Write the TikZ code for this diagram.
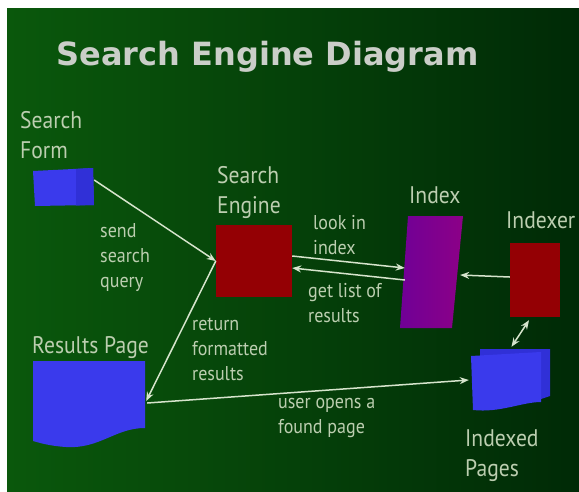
\documentclass[tikz,border=0pt]{standalone}
\usepackage{fontspec}
\setmainfont{PT Sans}
\newfontfamily\lblfont[FakeStretch=0.9]{PT Sans}
\newfontfamily\headfont{DejaVu Sans}
\usetikzlibrary{arrows.meta,calc}

\definecolor{bgleft}{RGB}{10,88,12}
\definecolor{bgright}{RGB}{0,42,6}
\definecolor{labelcol}{RGB}{188,206,176}
\definecolor{titlecol}{RGB}{202,206,200}
\definecolor{linecol}{RGB}{214,228,204}
\definecolor{pageblue}{RGB}{58,58,236}
\definecolor{pageblue2}{RGB}{48,48,215}
\definecolor{boxred}{RGB}{148,0,4}
\definecolor{idxleft}{RGB}{112,0,150}
\definecolor{idxright}{RGB}{140,0,135}

% multi-line labels are anchored at the baseline of their last line
\tikzset{
  biglabel/.style={text=labelcol, font=\lblfont\fontsize{24}{30}\selectfont,
    align=left, anchor=base west, inner sep=0pt},
  smalllabel/.style={text=labelcol, font=\lblfont\fontsize{20}{25}\selectfont,
    align=left, anchor=base west, inner sep=0pt},
  redbox/.style={fill=boxred, draw=none, inner sep=0pt},
  area/.style={draw=none, inner sep=0pt},
  flow/.style={draw=linecol, line width=1.5pt,
    -{Stealth[length=9pt,width=7pt]}},
  twoway/.style={draw=linecol, line width=1.5pt,
    {Stealth[length=9pt,width=7pt]}-{Stealth[length=9pt,width=7pt]}},
}

\begin{document}
\begin{tikzpicture}[x=1pt,y=-1pt]
  \useasboundingbox (0,0) rectangle (579,491);
  % backdrop
  \fill[white] (0,0) rectangle (579,491);
  \shade[left color=bgleft, right color=bgright] (7,8) rectangle (579,491);

  % heading
  \node[text=titlecol, font=\headfont\bfseries\fontsize{32}{38}\selectfont,
        anchor=base] (title) at (267.5,65) {Search Engine Diagram};

  % search form
  \node[area, minimum width=61pt, minimum height=38pt] (form) at (63.5,187) {};
  \fill[pageblue] (33,171) -- (93,168) -- (94,205) -- (35,206) -- cycle;
  \fill[pageblue2] (76,169) -- (93,168) -- (94,205) -- (76,205.5) -- cycle;
  \node[biglabel] (formlbl) at (20,158) {Search\\Form};

  % search engine
  \node[redbox, minimum width=76pt, minimum height=72pt] (se) at (254,261) {};
  \node[biglabel] (selbl) at (217,213) {Search\\Engine};

  % index
  \node[area, minimum width=63pt, minimum height=112pt] (index) at (431.5,272) {};
  \shade[left color=idxleft, right color=idxright]
    (408,216) -- (463,216) -- (452,328) -- (400,328) -- cycle;
  \node[biglabel] (indexlbl) at (409,203) {Index};

  % indexer
  \node[redbox, minimum width=50pt, minimum height=74pt] (idxr) at (535,280) {};
  \node[biglabel] (idxrlbl) at (506,228) {Indexer};

  % indexed pages (two stacked sheets)
  \node[area, minimum width=79pt, minimum height=62pt] (ip) at (510.5,380) {};
  \fill[pageblue2] (480,349) -- (550,349) -- (550,396) -- (541,399) -- (480,399) -- cycle;
  \fill[pageblue] (471,356) -- (541,352) -- (541,402)
    .. controls (522,402) and (500,413) .. (473,410) -- cycle;
  \node[biglabel] (iplbl) at (465,476) {Indexed\\Pages};

  % results page
  \node[area, minimum width=112pt, minimum height=86pt] (res) at (89,404) {};
  \fill[pageblue] (33,361) -- (145,361) -- (145,428)
    .. controls (115,428) and (100,449) .. (66,447)
    .. controls (50,446) and (40,443) .. (33,441) -- cycle;
  \node[biglabel] (reslbl) at (32,353) {Results Page};

  % connectors
  \draw[flow] ([shift={(0,-7)}]form.east) -- (se.west);
  \draw[flow] (se.west) -- ([shift={(1,-3)}]res.east);
  \draw[flow] ([shift={(0,-5)}]se.east) -- ([shift={(5,-4)}]index.west);
  \draw[flow] ([shift={(5,8)}]index.west) -- ([shift={(0,7)}]se.east);
  \draw[flow] ([shift={(0,-3)}]idxr.west) -- ([shift={(-3,3)}]index.east);
  \draw[twoway] ([shift={(-6,3)}]idxr.south) -- ([shift={(1,-2)}]ip.north);
  \draw[flow] ([shift={(2,-1)}]res.east) -- ([shift={(-2,0)}]ip.west);

  % connector labels
  \node[smalllabel] (sendlbl) at (100,287) {send\\search\\query};
  \node[smalllabel] (looklbl) at (313,254) {look in\\index};
  \node[smalllabel] (getlbl) at (308,322) {get list of\\results};
  \node[smalllabel] (retlbl) at (192,380) {return\\formatted\\results};
  \node[smalllabel] (userlbl) at (278,433) {user opens a\\found page};
\end{tikzpicture}
\end{document}
